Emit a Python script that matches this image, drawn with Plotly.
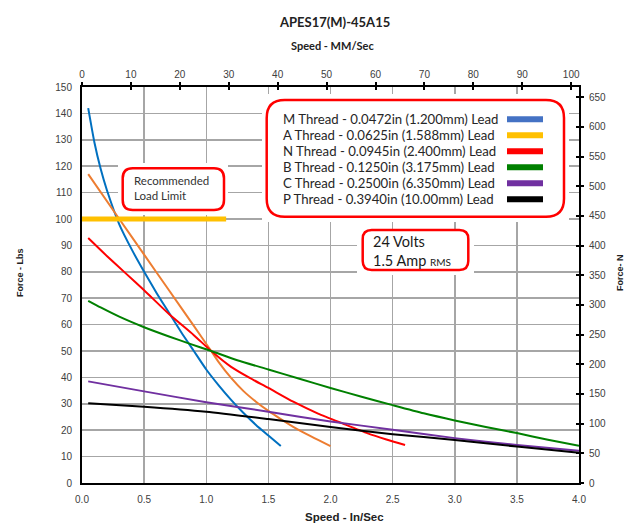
import plotly.graph_objects as go

# ---------------- data (speed in in/sec, force in lbs) ----------------
m_speed = [0.05, 0.1, 0.15, 0.2, 0.3, 0.4, 0.5, 0.6, 0.7, 0.8, 0.9, 1.0, 1.1, 1.2, 1.3, 1.4, 1.5, 1.6]
m_force = [142, 129, 119, 111, 98, 88.5, 80, 72, 64.5, 57, 50, 43, 37, 31.5, 26.5, 22, 18, 14]

a_speed = [0.05, 0.3, 0.5, 0.7, 0.9, 1.04, 1.1, 1.2, 1.3, 1.4, 1.5, 1.6, 1.7, 1.8, 1.9, 2.0]
a_force = [117, 100, 86.5, 73, 59.5, 50, 45.8, 39.8, 34.8, 30.8, 27.3, 24.2, 21.3, 18.7, 16.3, 14]

n_speed = [0.05, 0.2, 0.35, 0.5, 0.7, 0.9, 1.04, 1.2, 1.35, 1.5, 1.7, 1.9, 2.1, 2.3, 2.45, 2.6]
n_force = [92.8, 86, 79.5, 73, 64, 56, 50, 44, 39.8, 36, 30.8, 26.3, 22.5, 18.8, 16.5, 14.4]

b_speed = [0.05, 0.15, 0.3, 0.5, 0.7, 0.87, 1.04, 1.25, 1.5, 1.75, 2.0, 2.25, 2.5, 2.75, 3.0, 3.25, 3.5, 3.75, 4.0]
b_force = [69, 66.5, 63, 59, 55.5, 52.7, 50, 46.5, 43, 39.5, 36, 32.7, 29.5, 26.4, 23.7, 21.2, 18.9, 16.4, 14.1]

c_speed = [0.05, 0.5, 1.0, 1.5, 2.0, 2.5, 3.0, 3.5, 4.0]
c_force = [38.5, 34.7, 30.6, 27.0, 23.3, 20.2, 17.0, 14.4, 12.2]

p_speed = [0.05, 0.5, 1.0, 1.5, 2.0, 2.5, 3.0, 3.5, 4.0]
p_force = [30.2, 28.9, 27.0, 24.2, 21.2, 18.5, 16.3, 13.8, 11.5]

limit_speed = [0.0, 1.16]
limit_force = [100, 100]

legend_labels = [
    "M Thread - 0.0472in (1.200mm) Lead",
    "A Thread - 0.0625in (1.588mm) Lead",
    "N Thread - 0.0945in (2.400mm) Lead",
    "B Thread - 0.1250in (3.175mm) Lead",
    "C Thread - 0.2500in (6.350mm) Lead",
    "P Thread - 0.3940in (10.00mm) Lead",
]
legend_colors = ["#4472C4", "#FFC000", "#FF0000", "#008000", "#7030A0", "#000000"]

x_range_in = [0, 4]
y_range_lbs = [0, 150]
MM_PER_IN = 25.4
N_PER_LBF = 4.44822
top_ticks = list(range(0, 101, 10))
right_ticks = list(range(0, 651, 50))

# ---------------- layout helpers ----------------
W, H = 635, 525
L, R, T, B = 82, 56, 87, 42
PW, PH = W - L - R, H - T - B


def px(x):
    return (x - L) / PW


def py(y):
    return (H - B - y) / PH


def rrect(x0, y0, x1, y1, r):
    return (f"M {px(x0+r)},{py(y0)} L {px(x1-r)},{py(y0)} "
            f"Q {px(x1)},{py(y0)} {px(x1)},{py(y0+r)} L {px(x1)},{py(y1-r)} "
            f"Q {px(x1)},{py(y1)} {px(x1-r)},{py(y1)} L {px(x0+r)},{py(y1)} "
            f"Q {px(x0)},{py(y1)} {px(x0)},{py(y1-r)} L {px(x0)},{py(y0+r)} "
            f"Q {px(x0)},{py(y0)} {px(x0+r)},{py(y0)} Z")


fig = go.Figure()

series = [
    (m_speed, m_force, "#0070C0"),
    (a_speed, a_force, "#ED7D31"),
    (n_speed, n_force, "#FF0000"),
    (b_speed, b_force, "#008000"),
    (c_speed, c_force, "#7030A0"),
    (p_speed, p_force, "#000000"),
]
for xs, ys, col in series:
    fig.add_trace(go.Scatter(x=xs, y=ys, mode="lines", line=dict(color=col, width=2, shape="spline", smoothing=0.6),
                             showlegend=False, hoverinfo="skip"))

fig.add_trace(go.Scatter(x=limit_speed, y=limit_force, mode="lines", line=dict(color="#FFC000", width=5),
                         showlegend=False, hoverinfo="skip"))

# secondary axes (mm/sec top, N right), plus inside-tick copies
fig.add_trace(go.Scatter(x=[None], y=[None], xaxis="x2", yaxis="y2", showlegend=False, hoverinfo="skip"))
fig.add_trace(go.Scatter(x=[None], y=[None], xaxis="x3", yaxis="y3", showlegend=False, hoverinfo="skip"))

tickfont = dict(family="Liberation Sans, Arial", size=10, color="#404040")
mm_range = [x_range_in[0] * MM_PER_IN, x_range_in[1] * MM_PER_IN]
n_range = [y_range_lbs[0] * N_PER_LBF, y_range_lbs[1] * N_PER_LBF]

fig.update_layout(
    width=W, height=H,
    margin=dict(l=L, r=R, t=T, b=B, autoexpand=False),
    paper_bgcolor="white", plot_bgcolor="white",
    xaxis=dict(range=x_range_in, dtick=0.5, tick0=0, tickformat=".1f", showgrid=True, gridcolor="#a6a6a6",
               gridwidth=1.5, zeroline=False, showline=True, linecolor="black", linewidth=2, ticks="",
               tickfont=tickfont, ticklabelstandoff=6),
    yaxis=dict(range=y_range_lbs, dtick=10, tick0=0, showgrid=True, gridcolor="#a6a6a6", gridwidth=1.5,
               zeroline=False, showline=True, linecolor="black", linewidth=2, ticks="", tickfont=tickfont,
               ticklabelstandoff=6),
    xaxis2=dict(range=mm_range, overlaying="x", side="top", anchor="y", tickvals=top_ticks, showgrid=False,
                zeroline=False, showline=True, linecolor="black", linewidth=2, ticks="outside", ticklen=3,
                tickwidth=2, tickcolor="black", tickfont=tickfont),
    yaxis2=dict(range=n_range, overlaying="y", side="right", anchor="x", tickvals=right_ticks, showgrid=False,
                zeroline=False, showline=True, linecolor="black", linewidth=2, ticks="outside", ticklen=3,
                tickwidth=2, tickcolor="black", tickfont=tickfont, ticklabelstandoff=3),
    xaxis3=dict(range=mm_range, overlaying="x", side="top", anchor="y", tickvals=top_ticks, showgrid=False,
                zeroline=False, showline=False, ticks="inside", ticklen=3, tickwidth=2, tickcolor="black",
                showticklabels=False),
    yaxis3=dict(range=n_range, overlaying="y", side="right", anchor="x", tickvals=right_ticks, showgrid=False,
                zeroline=False, showline=False, ticks="inside", ticklen=3, tickwidth=2, tickcolor="black",
                showticklabels=False),
)

shapes = []
# white backings (hide gridlines behind boxes)
for (x0, y0, x1, y1) in [(262, 94, 569, 222), (118, 163, 228, 215), (357, 232, 474, 275)]:
    shapes.append(dict(type="rect", xref="paper", yref="paper", x0=px(x0), x1=px(x1), y0=py(y1), y1=py(y0),
                       fillcolor="white", line=dict(width=0), layer="above"))
# rounded red boxes
for (x0, y0, x1, y1, r) in [(266.7, 100, 564, 216.7, 18), (122.7, 168.3, 224, 210, 10), (362.7, 230, 468.3, 270, 9)]:
    shapes.append(dict(type="path", xref="paper", yref="paper", path=rrect(x0, y0, x1, y1, r),
                       fillcolor="white", line=dict(color="#FF0000", width=2.5), layer="above"))
# legend samples
for i, col in enumerate(legend_colors):
    yy = 119.3 + 16 * i
    shapes.append(dict(type="line", xref="paper", yref="paper", x0=px(507), x1=px(543), y0=py(yy), y1=py(yy),
                       line=dict(color=col, width=6), layer="above"))
fig.update_layout(shapes=shapes)

ann = []
calibri = "Lato, Carlito, Calibri, sans-serif"
for i, lab in enumerate(legend_labels):
    ann.append(dict(text=lab, x=px(281), y=py(119.3 + 16 * i), xref="paper", yref="paper", xanchor="left",
                    yanchor="middle", showarrow=False, font=dict(family=calibri, size=13.2, color="#262626")))
ann.append(dict(text="Recommended<br>Load Limit", x=px(132), y=py(188), xref="paper", yref="paper",
                xanchor="left", yanchor="middle", align="left", showarrow=False,
                font=dict(family=calibri, size=11.5, color="#333333")))
ann.append(dict(text="24 Volts<br>1.5 Amp <span style='font-size:10px'>RMS</span>", x=px(371), y=py(251),
                xref="paper", yref="paper", xanchor="left", yanchor="middle", align="left", showarrow=False,
                font=dict(family=calibri, size=14.5, color="#1a1a1a")))
ann.append(dict(text="<b>APES17(M)-45A15</b>", x=px(334), y=py(22), xref="paper", yref="paper",
                xanchor="center", yanchor="middle", showarrow=False, font=dict(family=calibri, size=13, color="#222")))
ann.append(dict(text="<b>Speed - MM/Sec</b>", x=px(332), y=py(45), xref="paper", yref="paper",
                xanchor="center", yanchor="middle", showarrow=False, font=dict(family=calibri, size=11, color="#222")))
ann.append(dict(text="<b>Speed - In/Sec</b>", x=px(344), y=py(517), xref="paper", yref="paper",
                xanchor="center", yanchor="middle", showarrow=False,
                font=dict(family="Liberation Sans, Arial", size=11.5, color="#222")))
ann.append(dict(text="<b>Force - Lbs</b>", x=px(20), y=py(273), xref="paper", yref="paper", textangle=-90,
                xanchor="center", yanchor="middle", showarrow=False,
                font=dict(family="Liberation Sans, Arial", size=9, color="#222")))
ann.append(dict(text="<b>Force- N</b>", x=px(620), y=py(273), xref="paper", yref="paper", textangle=-90,
                xanchor="center", yanchor="middle", showarrow=False,
                font=dict(family="Liberation Sans, Arial", size=9, color="#222")))
fig.update_layout(annotations=ann)

fig.write_html("out.html", config={"displayModeBar": False, "staticPlot": True},
               post_script="document.body.style.margin='0';document.body.style.padding='0';")
